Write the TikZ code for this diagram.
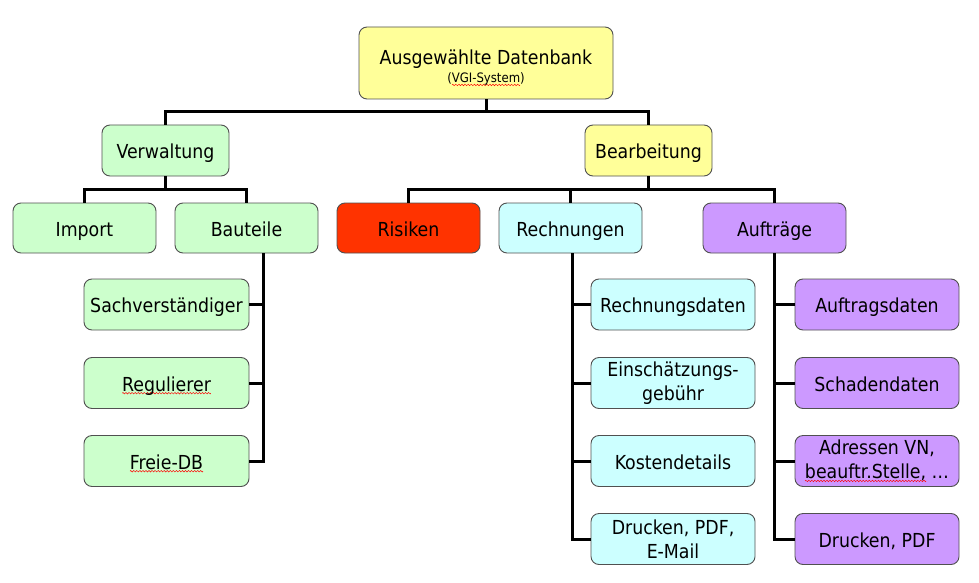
\documentclass[tikz,border=0pt]{standalone}
\usepackage{fontspec}
\setmainfont{DejaVu Sans Condensed}
\newsavebox\wavebox
\sbox\wavebox{\tikz{\useasboundingbox (0,-1pt) rectangle (3pt,1pt);
  \draw[red, line width=0.45pt] (0,0) sin (0.75pt,0.75pt) cos (1.5pt,0) sin (2.25pt,-0.75pt) cos (3pt,0);}}
\newsavebox\wtext
\newcommand\redwave[1]{\sbox\wtext{#1}\rlap{\raisebox{-3.2pt}{\hbox to\wd\wtext{\xleaders\copy\wavebox\hfill}}}\usebox\wtext}
\definecolor{cyel}{HTML}{FFFF99}
\definecolor{cgrn}{HTML}{CCFFCC}
\definecolor{cred}{HTML}{FF3300}
\definecolor{ccyan}{HTML}{CCFFFF}
\definecolor{cpur}{HTML}{CC99FF}
\definecolor{cedge}{HTML}{505050}
\tikzset{
  box/.style={draw=cedge, line width=0.9pt, rounded corners=8pt, inner sep=0pt,
    align=center, font=\fontsize{19.3}{24}\selectfont},
  one/.style={text height=20pt, text depth=4pt},
  two/.style={execute at begin node={\rule{0pt}{18.5pt}}},
  wide/.style={box, one, minimum width=143pt, minimum height=50pt},
  sub/.style={box, minimum width=164pt, minimum height=51pt},
  conn/.style={line width=3pt, black}
}
\begin{document}
\begin{tikzpicture}[x=1pt,y=-1pt]
\useasboundingbox (0,0) rectangle (979,583);
% nodes
\node[box, fill=cyel, minimum width=254pt, minimum height=72pt] (top) at (486,63)
  {\rule{0pt}{24.7pt}Ausgewählte Datenbank\\[-6pt]{\fontsize{13}{15}\selectfont(\redwave{VGI-System})}};
\node[box, one, fill=cgrn, minimum width=127pt, minimum height=51pt] (verw) at (165.5,150.5) {Verwaltung};
\node[box, one, fill=cyel, minimum width=127pt, minimum height=51pt] (bearb) at (648.5,150.5) {Bearbeitung};
\node[wide, fill=cgrn] (import) at (84.5,228) {Import};
\node[wide, fill=cgrn] (baut) at (246.5,228) {Bauteile};
\node[wide, fill=cred] (risk) at (408.5,228) {Risiken};
\node[wide, fill=ccyan] (rechn) at (570.5,228) {Rechnungen};
\node[wide, fill=cpur] (auftr) at (774.5,228) {Aufträge};
\node[sub, one, fill=cgrn, minimum width=165pt] (sach) at (166.5,304.5) {Sachverständiger};
\node[sub, one, fill=cgrn, minimum width=165pt] (reg) at (166.5,383) {\redwave{Regulierer}};
\node[sub, one, fill=cgrn, minimum width=165pt] (freie) at (166.5,461) {\redwave{Freie-DB}};
\node[sub, one, fill=ccyan] (rd) at (673,304.5) {Rechnungsdaten};
\node[sub, two, fill=ccyan] (ein) at (673,383) {Einschätzungs-\\gebühr};
\node[sub, one, fill=ccyan] (kost) at (673,461) {Kostendetails};
\node[sub, two, fill=ccyan] (dr) at (673,539) {Drucken, PDF,\\E-Mail};
\node[sub, one, fill=cpur] (ad) at (877,304.5) {Auftragsdaten};
\node[sub, one, fill=cpur] (sd) at (877,383) {Schadendaten};
\node[sub, two, fill=cpur] (adr) at (877,461) {Adressen VN,\\\redwave{beauftr.Stelle,} …};
\node[sub, one, fill=cpur] (drp) at (877,539) {Drucken, PDF};
% connectors
\draw[conn] (top.south) -- ++(0,12) coordinate (j0);
\draw[conn] (verw.north) |- (j0) -| (bearb.north);
\draw[conn] (verw.south) -- ++(0,13.5) coordinate (j1);
\draw[conn] (import.north) |- (j1) -| (baut.north);
\draw[conn] (bearb.south) -- ++(0,13.5) coordinate (j2);
\draw[conn] (risk.north) |- (j2) -| (auftr.north);
\draw[conn] (j2 -| rechn.north) -- (rechn.north);
\coordinate (bt) at ([xshift=16.5pt]baut.south);
\draw[conn] (bt) |- (freie.east);
\draw[conn] (sach.east) -- (sach.east -| bt);
\draw[conn] (reg.east) -- (reg.east -| bt);
\coordinate (rt) at ([xshift=1.5pt]rechn.south);
\draw[conn] (rt) |- (dr.west);
\draw[conn] (rd.west) -- (rd.west -| rt);
\draw[conn] (ein.west) -- (ein.west -| rt);
\draw[conn] (kost.west) -- (kost.west -| rt);
\draw[conn] (auftr.south) |- (drp.west);
\draw[conn] (ad.west) -- (ad.west -| auftr.south);
\draw[conn] (sd.west) -- (sd.west -| auftr.south);
\draw[conn] (adr.west) -- (adr.west -| auftr.south);
\end{tikzpicture}
\end{document}
